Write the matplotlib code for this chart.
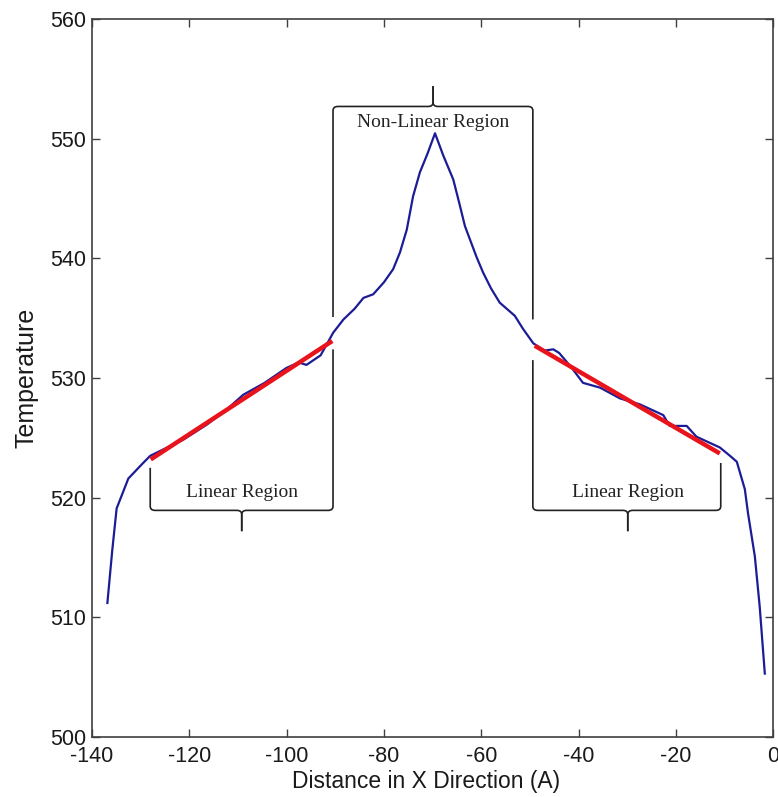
import matplotlib
matplotlib.use("Agg")
import matplotlib.pyplot as plt
from matplotlib.path import Path
from matplotlib.patches import PathPatch

plt.rcParams["axes.unicode_minus"] = False

# ---- data ----
dist = [-136.8, -135.8, -134.9, -132.5, -129.7, -128.0, -125.5, -121.2, -116.4,
        -112.5, -108.9, -104.5, -100.0, -97.5, -95.9, -93.0, -90.4, -88.3, -86.0,
        -84.2, -82.2, -80.0, -78.1, -76.7, -75.3, -74.0, -72.6, -71.0, -69.5,
        -67.8, -65.75, -64.5, -63.35, -60.95, -59.6, -58.0, -56.2, -53.1, -51.4,
        -49.3, -47.0, -45.2, -44.0, -41.5, -39.1, -35.6, -31.5, -27.4, -22.6,
        -21.3, -17.8, -15.8, -11.0, -8.9, -7.5, -5.85, -5.2, -3.8, -2.8, -1.75]
temp = [511.2, 515.6, 519.1, 521.6, 522.8, 523.5, 524.0, 524.85, 526.1,
        527.3, 528.6, 529.6, 530.85, 531.3, 531.1, 531.9, 533.8, 534.9, 535.8,
        536.7, 537.0, 538.0, 539.1, 540.5, 542.4, 545.2, 547.2, 548.8, 550.46,
        548.6, 546.6, 544.6, 542.7, 540.1, 538.8, 537.5, 536.3, 535.2, 534.1,
        532.9, 532.3, 532.4, 532.1, 530.9, 529.6, 529.2, 528.3, 527.8, 526.9,
        526.0, 526.0, 525.1, 524.2, 523.5, 523.0, 520.7, 518.7, 515.1, 510.9, 505.3]

fit_left_x = [-127.9, -90.6]
fit_left_t = [523.2, 533.1]
fit_right_x = [-49.0, -11.0]
fit_right_t = [532.7, 523.7]

xticks = [-140, -120, -100, -80, -60, -40, -20, 0]
yticks = [500, 510, 520, 530, 540, 550, 560]

region_labels = ["Linear Region", "Non-Linear Region", "Linear Region"]

# ---- figure ----
fig = plt.figure(figsize=(7.78, 7.97), dpi=100)
ax = fig.add_axes([0.118, 0.0753, 0.876, 0.9007])

ax.plot(dist, temp, color="#1c1c96", lw=1.6, zorder=3)
ax.plot(fit_left_x, fit_left_t, color="#e8131b", lw=3.2, solid_capstyle="butt", zorder=4)
ax.plot(fit_right_x, fit_right_t, color="#e8131b", lw=3.2, solid_capstyle="butt", zorder=4)

ax.set_xlim(-140, 0)
ax.set_ylim(500, 560)
ax.set_xticks(xticks)
ax.set_yticks(yticks)

sans = "Liberation Sans"
serif = "Liberation Serif"
for lab in ax.get_xticklabels() + ax.get_yticklabels():
    lab.set_fontfamily(sans)
    lab.set_fontsize(15.5)
    lab.set_color("#1a1a1a")
ax.tick_params(direction="in", length=6, width=1, top=True, right=True,
               color="#404040")
ax.tick_params(axis="x", pad=6.5)
ax.tick_params(axis="y", pad=4)
for s in ax.spines.values():
    s.set_color("#404040")
    s.set_linewidth(1.2)
ax.set_xlabel("Distance in X Direction (A)", fontfamily=sans, fontsize=16.5, color="#1a1a1a")
ax.set_ylabel("Temperature", fontfamily=sans, fontsize=18, color="#1a1a1a")
ax.xaxis.set_label_coords(0.49, -0.046)
ax.yaxis.set_label_coords(-0.078, 0.5)

kc = "#222222"
klw = 1.2
codes = [Path.MOVETO, Path.LINETO, Path.CURVE3, Path.CURVE3,
         Path.LINETO, Path.CURVE3, Path.CURVE3, Path.LINETO]

def half(xa, ya, yh, xb, yb, rx, s):
    d = 1 if xb > xa else -1
    sa = 1 if ya > yh else -1
    sb = 1 if yb > yh else -1
    verts = [(xa, ya), (xa, yh + sa * s), (xa, yh), (xa + d * rx, yh),
             (xb - d * rx, yh), (xb, yh), (xb, yh + sb * s), (xb, yb)]
    ax.add_patch(PathPatch(Path(verts, codes), fill=False, ec=kc, lw=klw, zorder=2))

def bracket(x0, x1, yh, yend0, yend1, xtip, ytip, rx=1.0, ry=0.35):
    half(x0, yend0, yh, xtip, ytip, rx, ry)
    half(xtip, ytip, yh, x1, yend1, rx, ry)

# left bottom bracket (right edge continues as the divider line)
bracket(-128.0, -90.45, 518.94, 522.5, 532.4, -109.2, 517.2)
# right bottom bracket
bracket(-49.4, -10.8, 518.94, 531.5, 522.9, -29.9, 517.2)
# top bracket
bracket(-90.45, -49.4, 552.7, 535.1, 534.9, -69.9, 554.4)

ax.text(-109.2, 520.4, region_labels[0], family=serif, fontsize=14,
        ha="center", va="center", color="#222222")
ax.text(-69.9, 551.4, region_labels[1], family=serif, fontsize=14,
        ha="center", va="center", color="#222222")
ax.text(-29.9, 520.4, region_labels[2], family=serif, fontsize=14,
        ha="center", va="center", color="#222222")

fig.savefig("out.png", dpi=100)
